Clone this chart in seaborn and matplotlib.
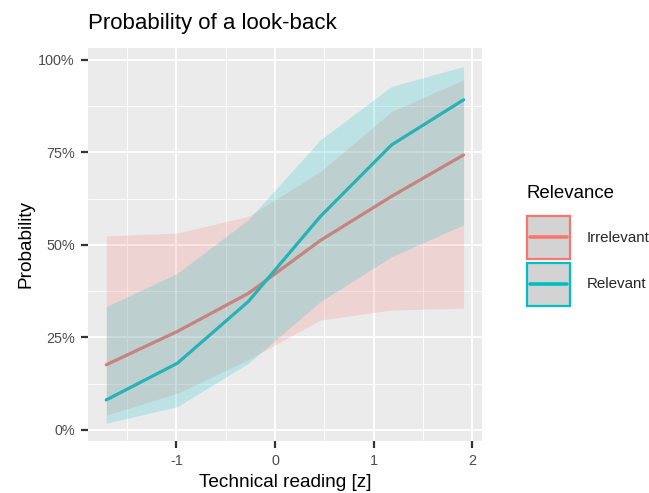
import numpy as np
import pandas as pd
import matplotlib
matplotlib.use("Agg")
import matplotlib.pyplot as plt
import seaborn as sns
from matplotlib.patches import Patch, Rectangle
from matplotlib.lines import Line2D
from matplotlib.legend_handler import HandlerBase
from matplotlib.ticker import FixedLocator, PercentFormatter

# ---- data ----
x_vals = [-1.71, -0.99, -0.27, 0.46, 1.18, 1.91]
irr_fit = [0.176, 0.266, 0.369, 0.512, 0.631, 0.743]
irr_lo = [0.040, 0.099, 0.190, 0.297, 0.324, 0.329]
irr_hi = [0.524, 0.532, 0.577, 0.698, 0.860, 0.946]
rel_fit = [0.081, 0.180, 0.347, 0.577, 0.770, 0.892]
rel_lo = [0.018, 0.063, 0.180, 0.347, 0.468, 0.554]
rel_hi = [0.333, 0.423, 0.568, 0.784, 0.928, 0.982]
groups = ["Irrelevant", "Relevant"]
colors = {"Irrelevant": "#F8766D", "Relevant": "#00BFC4"}

df = pd.DataFrame({
    "x": x_vals * 2,
    "fit": irr_fit + rel_fit,
    "lo": irr_lo + rel_lo,
    "hi": irr_hi + rel_hi,
    "Relevance": ["Irrelevant"] * 6 + ["Relevant"] * 6,
})

sns.set_theme(style="darkgrid")
plt.rcParams["font.family"] = ["Liberation Sans", "DejaVu Sans"]
plt.rcParams["axes.unicode_minus"] = False

fig = plt.figure(figsize=(6.49, 4.93), dpi=100)
ax = fig.add_axes([88 / 649, 1 - 441 / 493, (482 - 88) / 649, (441 - 48) / 493])
ax.set_facecolor("#EBEBEB")

sns.lineplot(data=df, x="x", y="fit", hue="Relevance", palette=colors,
             linewidth=2.3, ax=ax, legend=False, zorder=2)
for g in groups:
    sub = df[df["Relevance"] == g]
    ax.fill_between(sub["x"], sub["lo"], sub["hi"], color=colors[g],
                    alpha=0.2, linewidth=0, zorder=3)

ax.set_xlim(-1.895, 2.097)
ax.set_ylim(-0.03, 1.032)
ax.xaxis.set_major_locator(FixedLocator([-1, 0, 1, 2]))
ax.xaxis.set_minor_locator(FixedLocator([-1.5, -0.5, 0.5, 1.5]))
ax.yaxis.set_major_locator(FixedLocator([0, 0.25, 0.5, 0.75, 1.0]))
ax.yaxis.set_minor_locator(FixedLocator([0.125, 0.375, 0.625, 0.875]))
ax.yaxis.set_major_formatter(PercentFormatter(1.0, decimals=0))
ax.grid(which="major", color="white", linewidth=1.3)
ax.grid(which="minor", color="white", linewidth=0.6)
ax.set_axisbelow(True)
for s in ax.spines.values():
    s.set_visible(False)
ax.tick_params(which="major", length=5, width=1.6, color="#333333",
               labelsize=10.4, labelcolor="#4D4D4D", pad=4.5, bottom=True, left=True)
ax.tick_params(which="minor", length=0)

ax.set_xlabel("Technical reading [z]", fontsize=13.7, color="black", labelpad=4)
ax.set_ylabel("Probability", fontsize=13.7, color="black", labelpad=3)
fig.text(88 / 649, 1 - 29 / 493, "Probability of a look-back", fontsize=16,
         va="baseline", ha="left", color="black")


class BoxLineHandler(HandlerBase):
    def create_artists(self, legend, orig_handle, xdescent, ydescent,
                       width, height, fontsize, trans):
        col = orig_handle.get_edgecolor()
        rect = Rectangle((-xdescent, -ydescent), width, height,
                         facecolor="#D3D3D3", edgecolor=col, linewidth=1.6,
                         transform=trans)
        yc = -ydescent + height / 2
        m = width * 0.08
        line = Line2D([-xdescent + m, -xdescent + width - m], [yc, yc],
                      color=col, linewidth=2.6, transform=trans)
        return [rect, line]


handles = [Patch(facecolor="#D3D3D3", edgecolor=colors[g]) for g in groups]
fig.text(527 / 649, 1 - 198 / 493, "Relevance", fontsize=13.4,
         va="baseline", ha="left", color="black")
leg = fig.legend(handles, groups, loc="upper left",
                 bbox_to_anchor=(527 / 649, 1 - 216 / 493), frameon=False,
                 fontsize=10.9, handlelength=2.84, handleheight=3.99,
                 handletextpad=1.12, labelspacing=0.26, borderpad=0,
                 borderaxespad=0, handler_map={Patch: BoxLineHandler()})

fig.savefig("out.png", dpi=100)
